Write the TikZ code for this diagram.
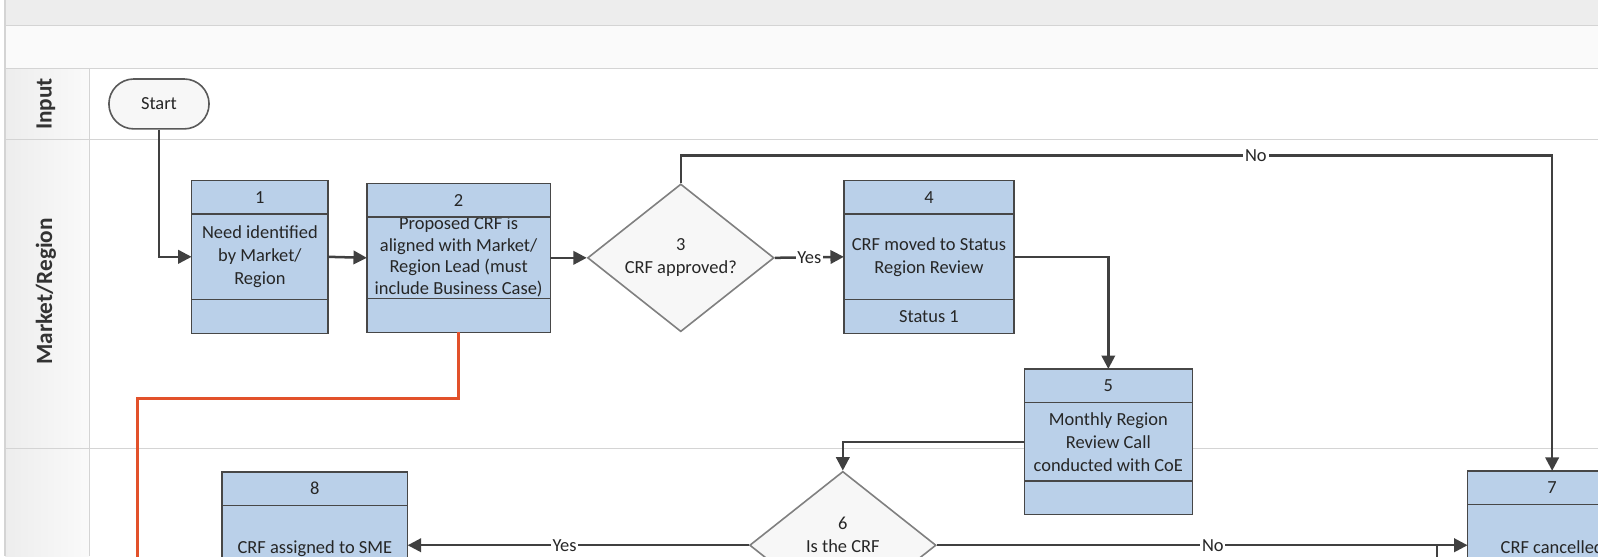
\documentclass[tikz,border=0pt]{standalone}
\usepackage{fontspec}
\setmainfont{Carlito}
\usetikzlibrary{positioning,shapes.geometric,shapes.misc,arrows.meta}
\definecolor{boxblue}{HTML}{BAD0E9}
\definecolor{boxline}{HTML}{474747}
\definecolor{flowgray}{HTML}{404040}
\definecolor{lanegray}{HTML}{D4D4D4}
\definecolor{orangeline}{HTML}{E2512A}
\begin{document}
\begin{tikzpicture}[x=0.02cm, y=-0.02cm,
    txt/.style={font=\fontsize{10.3}{12.8}\selectfont, text=black!85},
    body/.style={txt, draw=boxline, fill=boxblue, line width=0.8pt, align=center, inner sep=2pt, outer sep=0pt, minimum height=1.68cm},
    head/.style={body, minimum height=0.66cm},
    decision/.style={txt, diamond, draw=black!50, fill=black!3, line width=0.9pt, aspect=1.26, inner sep=0pt, minimum width=3.66cm, minimum height=2.9cm, align=center},
    flow/.style={draw=flowgray, line width=1.4pt, -{Triangle[length=7.5pt,width=7.5pt]}},
    lbl/.style={txt, fill=white, inner sep=1pt},
    lane/.style={font=\fontsize{13}{15}\selectfont\bfseries, text=black!80, rotate=90}]
  \useasboundingbox (0,0) rectangle (1568,546);
  \clip (0,0) rectangle (1568,546);
  % title bands and lanes
  \fill[black!7] (5,0) rectangle (1568,25);
  \fill[black!2] (5,25) rectangle (1568,67);
  \fill[left color=black!7, right color=black!2] (5,67) rectangle (88,546);
  \draw[lanegray, line width=0.8pt] (5,0) -- (5,546);
  \draw[lanegray, line width=0.8pt] (5,25) -- (1568,25) (5,67) -- (1568,67)
    (5,137) -- (1568,137) (5,440) -- (1568,440) (88,67) -- (88,546);
  \node[lane] (inputlbl) at (45,102) {Input};
  \node[lane] (marketlbl) at (45,286) {Market/Region};
  % start
  \node[txt, rounded rectangle, draw=black!65, fill=black!3, line width=0.9pt, minimum width=2.2cm, minimum height=0.98cm] (start) at (156,102) {Start};
  % step 1
  \node[body, minimum width=2.68cm] (n1) at (255,252) {Need identified\\by Market/\\Region};
  \node[head, minimum width=2.68cm, above=0pt of n1] (n1h) {1};
  \node[head, minimum width=2.68cm, below=0pt of n1] (n1f) {};
  % step 2
  \node[body, minimum width=3.6cm, minimum height=1.6cm] (n2) at (450,253) {};
  \node[head, minimum width=3.6cm, below=0pt of n2] (n2f) {};
  \node[txt, font=\fontsize{10.3}{12.2}\selectfont, align=center, inner sep=0pt] (n2txt) at (450,252) {Proposed CRF is\\aligned with Market/\\Region Lead (must\\include Business Case)};
  \node[head, minimum width=3.6cm, above=0pt of n2] (n2h) {2};
  % step 3
  \node[decision] (d3) at (668,253) {3\\CRF approved?};
  % step 4
  \node[body, minimum width=3.34cm] (n4) at (911.5,252) {CRF moved to Status\\Region Review};
  \node[head, minimum width=3.34cm, above=0pt of n4] (n4h) {4};
  \node[head, minimum width=3.34cm, below=0pt of n4] (n4f) {Status 1};
  % step 5
  \node[body, minimum width=3.3cm, minimum height=1.54cm] (n5) at (1087.5,433.5) {Monthly Region\\Review Call\\conducted with CoE};
  \node[head, minimum width=3.3cm, above=0pt of n5] (n5h) {5};
  \node[head, minimum width=3.3cm, below=0pt of n5] (n5f) {};
  % step 6
  \node[decision] (d6) at (827,535) {6\\Is the CRF\\[-5pt]\strut};
  % step 7
  \node[body, minimum width=3.32cm] (n7) at (1523,537) {CRF cancelled};
  \node[head, minimum width=3.32cm, above=0pt of n7] (n7h) {7};
  % step 8
  \node[body, minimum width=3.64cm] (n8) at (309,538) {CRF assigned to SME};
  \node[head, minimum width=3.64cm, above=0pt of n8] (n8h) {8};
  % connectors
  \draw[flow] (start.south) |- (n1.west);
  \draw[flow] (n1.east) -- (n2.west);
  \draw[flow] (n2.east) -- (d3.west);
  \draw[flow] (d3.east) -- node[lbl] (yes3) {Yes} (n4.west);
  \draw[flow] (d3.north) -- ++(0,-27) -| node[lbl, pos=0.33] (no3) {No} (n7h.north);
  \draw[flow] (n4.east) -| (n5h.north);
  \draw[flow] (n5.west) -| (d6.north);
  \draw[flow] (d6.west) -- node[lbl, pos=0.54] (yes6) {Yes} (d6.west -| n8.east);
  \draw[flow] (d6.east) -- node[lbl, pos=0.52] (no6) {No} (d6.east -| n7.west);
  \coordinate (sevenlow) at (1410,560);
  \draw[flowgray, line width=1.4pt] (sevenlow) -- (sevenlow |- d6.east);
  \coordinate (redend) at (135,560);
  \draw[orangeline, line width=1.6pt] (n2f.south) -- ++(0,65) -| (redend);
\end{tikzpicture}
\end{document}
